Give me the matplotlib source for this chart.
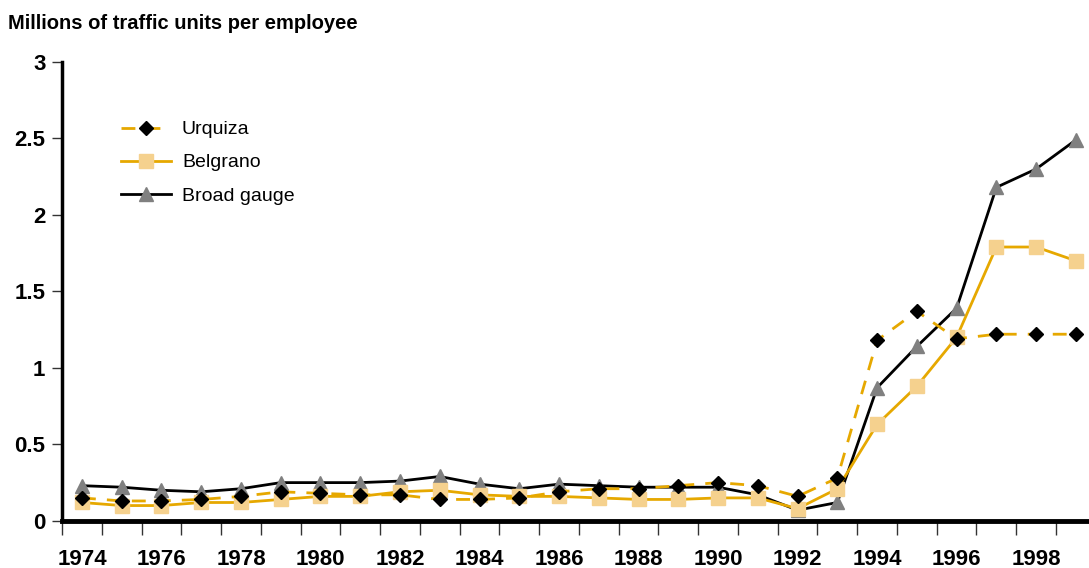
import numpy as np
import matplotlib.pyplot as plt

# years on the category axis
years = list(range(1974, 2000))

# values (millions of traffic units per employee)
urquiza = [0.15, 0.13, 0.13, 0.14, 0.16, 0.19, 0.18, 0.17, 0.17, 0.14, 0.14, 0.15, 0.19, 0.21,
           0.21, 0.23, 0.25, 0.23, 0.16, 0.28, 1.18, 1.37, 1.19, 1.22, 1.22, 1.22]
belgrano = [0.12, 0.10, 0.10, 0.12, 0.12, 0.14, 0.16, 0.16, 0.19, 0.20, 0.17, 0.16, 0.16, 0.15,
            0.14, 0.14, 0.15, 0.15, 0.08, 0.21, 0.63, 0.88, 1.20, 1.79, 1.79, 1.70]
broad = [0.23, 0.22, 0.20, 0.19, 0.21, 0.25, 0.25, 0.25, 0.26, 0.29, 0.24, 0.21, 0.24, 0.23,
         0.22, 0.22, 0.22, 0.17, 0.07, 0.12, 0.87, 1.14, 1.39, 2.18, 2.30, 2.49]

yticks = [0, 0.5, 1, 1.5, 2, 2.5, 3]
ytick_labels = ["0", "0.5", "1", "1.5", "2", "2.5", "3"]

gold = "#E6A800"
light = "#F5D18E"
grey = "#808080"

plt.rcParams['font.family'] = ['Liberation Sans', 'DejaVu Sans']

fig = plt.figure(figsize=(10.89, 5.68), dpi=100)
ax = fig.add_axes([0.057, 0.083, 0.943, 0.808])

x = np.arange(len(years))

ax.plot(x, urquiza, color=gold, lw=2, ls=(0, (5, 4)), marker="D", markersize=7,
        markerfacecolor="black", markeredgecolor="black", label="Urquiza", zorder=3)
ax.plot(x, belgrano, color=gold, lw=2, marker="s", markersize=10,
        markerfacecolor=light, markeredgecolor=light, label="Belgrano", zorder=2)
ax.plot(x, broad, color="black", lw=2, marker="^", markersize=10,
        markerfacecolor=grey, markeredgecolor=grey, label="Broad gauge", zorder=1)

ax.set_xlim(-0.5, 25.33)
ax.set_ylim(0, 3)

# labels on even years, tick marks on the category boundaries
ax.set_xticks(x[::2])
ax.set_xticklabels([str(y) for y in years[::2]], fontweight="bold", fontsize=16)
ax.set_xticks(np.arange(-0.5, 25.5, 1), minor=True)
ax.tick_params(axis="x", which="major", length=0, pad=20)
ax.tick_params(axis="x", which="minor", length=10, width=1, direction="out", color="#333333")

ax.set_yticks(yticks)
ax.set_yticklabels(ytick_labels, fontweight="bold", fontsize=16)
ax.tick_params(axis="y", length=7, width=1, direction="out", pad=5, color="#333333")

for s in ["top", "right"]:
    ax.spines[s].set_visible(False)
ax.spines["left"].set_linewidth(2.5)
ax.spines["bottom"].set_linewidth(3.5)

fig.text(0.007, 0.958, "Millions of traffic units per employee", fontsize=14.5,
         fontweight="bold", ha="left", va="center")

ax.legend(loc="upper left", bbox_to_anchor=(0.040, 0.91), frameon=False, fontsize=14,
          handlelength=2.6, labelspacing=0.8, handletextpad=0.55)

fig.savefig("out.png", dpi=100)
